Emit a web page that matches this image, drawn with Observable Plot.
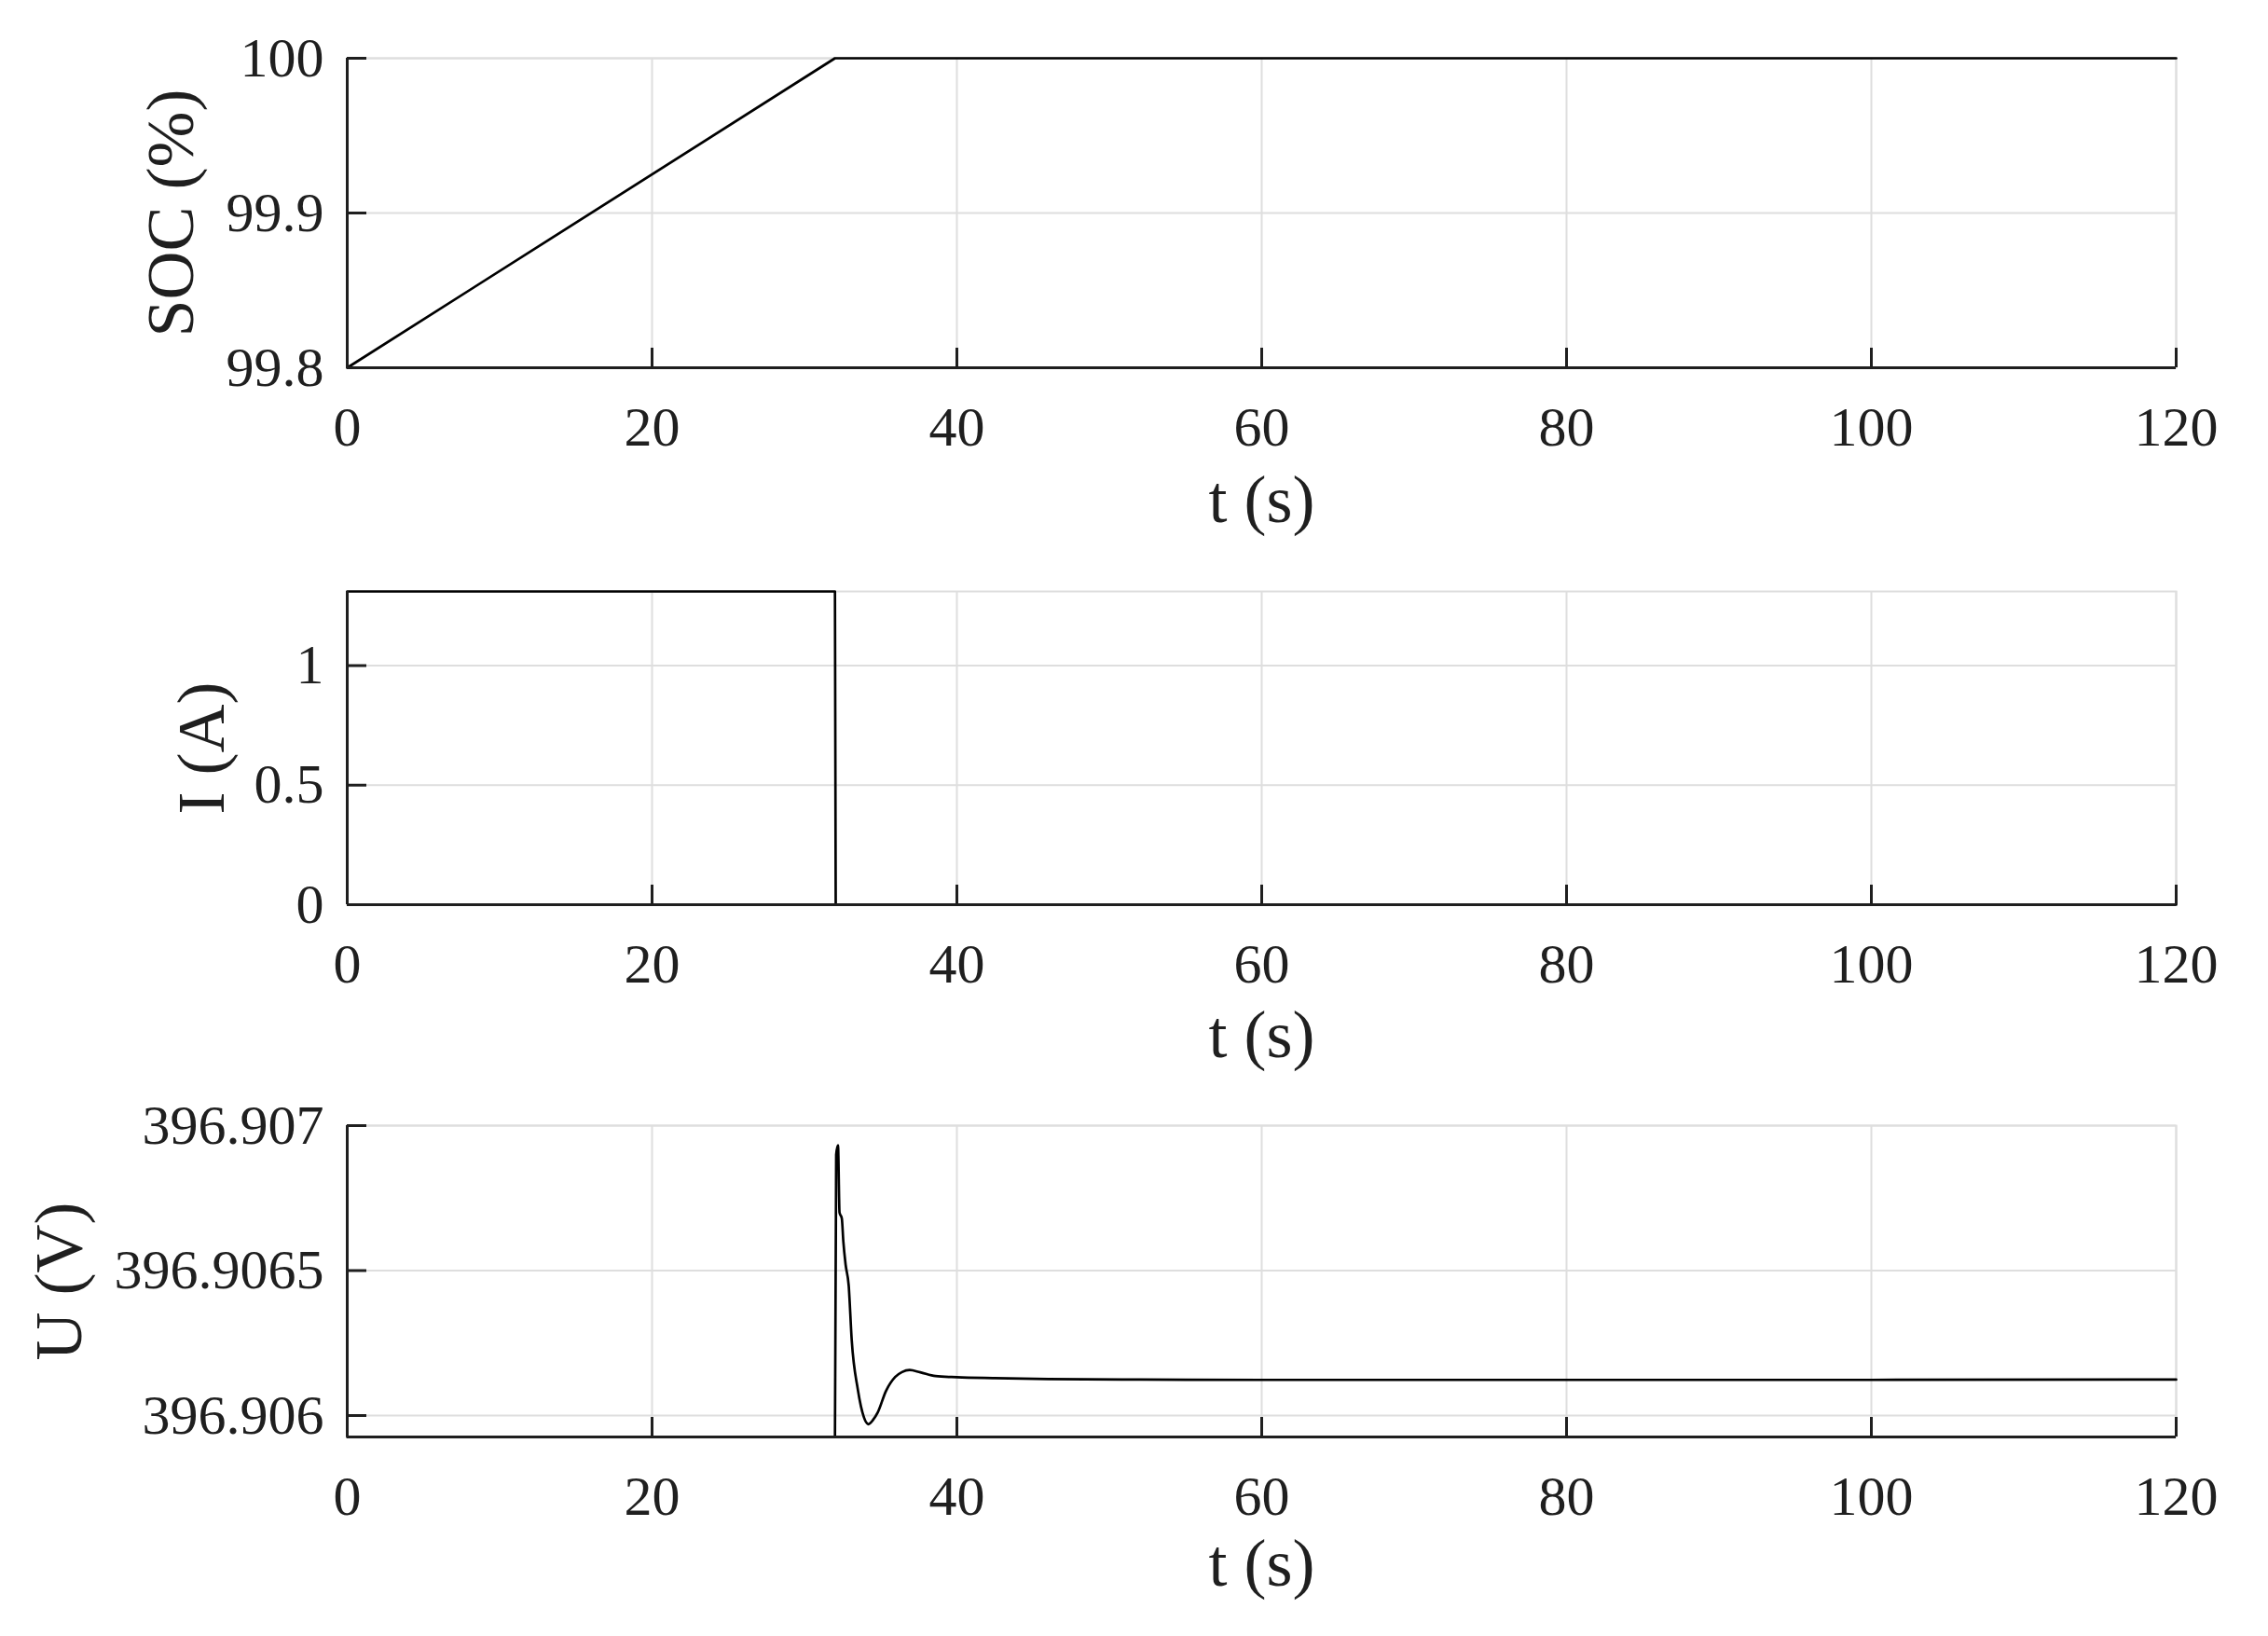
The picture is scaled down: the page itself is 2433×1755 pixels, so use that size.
<!DOCTYPE html>
<html><head><meta charset="utf-8">
<script src="https://cdn.jsdelivr.net/npm/d3@7"></script>
<script src="https://cdn.jsdelivr.net/npm/@observablehq/plot@0.6"></script>
<style>
body{margin:0;background:#fff;}
#chart{position:relative;width:2433px;height:1755px;background:#fff;overflow:hidden;}
#chart svg{position:absolute;left:0;}
</style></head><body><div id="chart"></div>
<script>
// ---- data ----
const xTicks = [0, 20, 40, 60, 80, 100, 120];
const xTitle = "t (s)";

const socTime = [0, 32, 120];
const socValues = [99.8, 100, 100];
const socTicks = [99.8, 99.9, 100];
const socTickLabels = ["99.8", "99.9", "100"];
const socDomain = [99.8, 100];
const socTitle = "SOC (%)";

const currentTime = [0, 32, 32.05, 120];
const currentValues = [1.31, 1.31, 0, 0];
const currentTicks = [0, 0.5, 1];
const currentTickLabels = ["0", "0.5", "1"];
const currentDomain = [0, 1.31];
const currentTitle = "I (A)";

const voltageTime = [0, 32.0, 32.08, 32.2, 32.3, 32.45, 32.55, 32.7, 32.9, 33.1, 33.5, 33.9, 34.2, 34.5, 34.8, 35.35, 35.95, 36.4, 36.9, 37.6, 38.6, 40.0, 42.5, 46, 52, 60, 80, 100, 120];
const voltageValues = [396.905926, 396.905926, 396.90690, 396.906932, 396.90670, 396.90668, 396.90660, 396.90652, 396.90645, 396.90626, 396.90609, 396.905994, 396.90597, 396.905985, 396.90601, 396.906085, 396.906133, 396.90615, 396.906157, 396.906149, 396.906136, 396.906132, 396.906129, 396.906126, 396.906124, 396.906123, 396.906123, 396.906123, 396.906124];
const voltageTicks = [396.906, 396.9065, 396.907];
const voltageTickLabels = ["396.906", "396.9065", "396.907"];
const voltageDomain = [396.905926, 396.907];
const voltageTitle = "U (V)";

// ---- drawing ----
const FONT = "'Liberation Serif', 'Times New Roman', serif";
const INK = "#1f1f1f";
const GRID = "#dedede";

function panel(cfg) {
  const rows = cfg.time.map((t, i) => ({t, v: cfg.values[i]}));
  const xDomain = [xTicks[0], xTicks[xTicks.length - 1]];
  const svg = Plot.plot({
    width: 2433, height: cfg.height,
    marginLeft: 372, marginRight: 99, marginTop: cfg.marginTop, marginBottom: cfg.marginBottom,
    style: {fontFamily: FONT, fontSize: "60px", color: INK, background: "transparent", overflow: "visible"},
    x: {domain: xDomain},
    y: {domain: cfg.domain},
    marks: [
      Plot.gridX(xTicks, {stroke: GRID, strokeOpacity: 1, strokeWidth: 2}),
      Plot.gridY(cfg.ticks, {stroke: GRID, strokeOpacity: 1, strokeWidth: 2}),
      Plot.frame({stroke: GRID, strokeWidth: 2}),
      Plot.line(rows, {x: "t", y: "v", stroke: "#000", strokeWidth: 2.7, curve: cfg.curve || "linear"}),
      Plot.ruleX([xDomain[0]], {stroke: INK, strokeWidth: 3}),
      Plot.ruleY([cfg.domain[0]], {stroke: INK, strokeWidth: 3}),
      Plot.axisX(xTicks, {tickSize: 21, dy: -21, tickFormat: () => "", stroke: INK, strokeWidth: 3, label: null}),
      Plot.axisX(xTicks, {tickSize: 0, tickPadding: 41, fontSize: 60, fill: INK, label: null, tickFormat: d => String(d)}),
      Plot.axisY(cfg.ticks, {tickSize: 21, dx: 21, tickFormat: () => "", stroke: INK, strokeWidth: 3, label: null}),
      Plot.axisY(cfg.ticks, {tickSize: 0, tickPadding: 25, fontSize: 60, fill: INK, label: null,
        tickFormat: d => cfg.tickLabels[cfg.ticks.indexOf(d)]}),
      Plot.text([xTitle], {frameAnchor: "bottom", dy: cfg.xTitleDy, fontSize: 72, fill: INK, lineAnchor: "middle", textAnchor: "middle"}),
      Plot.text([cfg.title], {frameAnchor: "left", dx: cfg.yTitleDx, rotate: -90, fontSize: 72, fill: INK, lineAnchor: "middle", textAnchor: "middle"})
    ]
  });
  svg.style.top = cfg.top + "px";
  document.getElementById("chart").appendChild(svg);
}

panel({top: 0, height: 590, marginTop: 62, marginBottom: 196, time: socTime, values: socValues,
  domain: socDomain, ticks: socTicks, tickLabels: socTickLabels, title: socTitle, yTitleDx: -189, xTitleDy: 142});
panel({top: 590, height: 580, marginTop: 44, marginBottom: 200, time: currentTime, values: currentValues,
  domain: currentDomain, ticks: currentTicks, tickLabels: currentTickLabels, title: currentTitle, yTitleDx: -156, xTitleDy: 140});
panel({top: 1170, height: 585, marginTop: 37, marginBottom: 214, time: voltageTime, values: voltageValues,
  domain: voltageDomain, ticks: voltageTicks, tickLabels: voltageTickLabels, title: voltageTitle, yTitleDx: -309, xTitleDy: 136, curve: "monotone-x"});
</script></body></html>
